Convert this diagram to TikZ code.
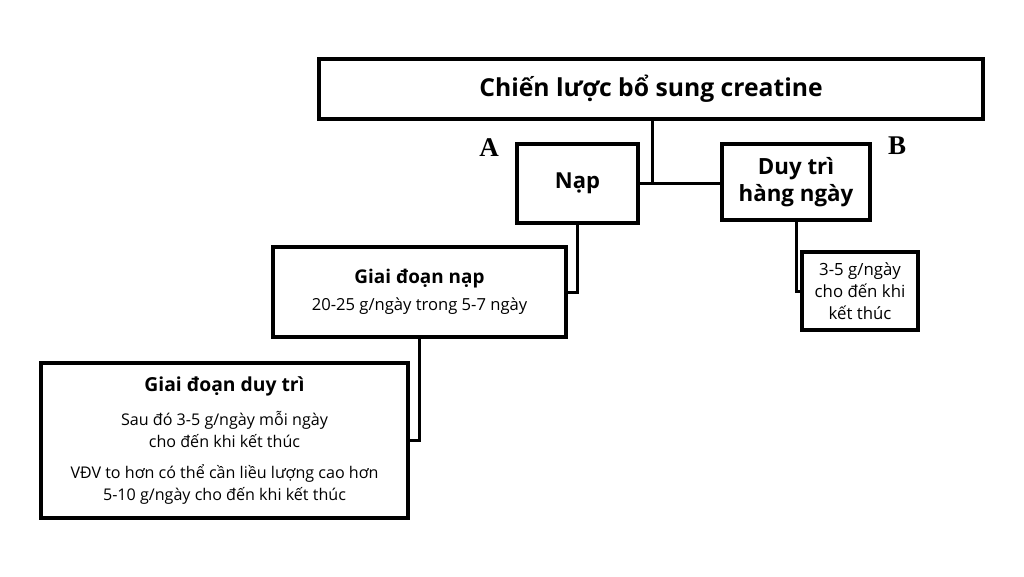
\documentclass[tikz,border=0pt]{standalone}
\usepackage{fontspec}
\setmainfont{Open Sans}
\newfontfamily\lblfont{Liberation Serif}
\begin{document}
\begin{tikzpicture}[x=1pt,y=-1pt,
  box/.style={draw=black,line width=3.5pt,fill=white,rectangle,inner sep=0pt,align=center,text=black},
  conn/.style={draw=black,line width=3pt},
  lbl/.style={font=\lblfont\bfseries\fontsize{27}{30}\selectfont,inner sep=0pt}]
\fill[white] (0,0) rectangle (1024,576);
\useasboundingbox (0,0) rectangle (1024,576);
\node[box,minimum width=664pt,minimum height=60pt,font=\bfseries\fontsize{24.7}{28}\selectfont] (top) at (651,89) {Chiến lược bổ sung creatine};
\node[box,minimum width=121pt,minimum height=79pt,font=\bfseries\fontsize{22}{27}\selectfont] (nap) at (577.5,183.5) {Nạp};
\node[box,minimum width=148pt,minimum height=76pt,font=\bfseries\fontsize{22.3}{27}\selectfont] (dt) at (796,182) {Duy trì\\hàng ngày};
\node[box,minimum width=293pt,minimum height=90pt,font=\fontsize{16.6}{27}\selectfont] (gdn) at (419.5,292) {{\bfseries\fontsize{18.9}{27}\selectfont Giai đoạn nạp}\\20-25 g/ngày trong 5-7 ngày};
\node[box,minimum width=367pt,minimum height=155pt,font=\fontsize{16.1}{22}\selectfont] (gddt) at (224.5,440.5) {{\bfseries\fontsize{19.3}{22}\selectfont Giai đoạn duy trì}\\[12pt]Sau đó 3-5 g/ngày mỗi ngày\\cho đến khi kết thúc\\[9pt]VĐV to hơn có thể cần liều lượng cao hơn\\5-10 g/ngày cho đến khi kết thúc};
\node[box,minimum width=116pt,minimum height=78pt,font=\fontsize{16.8}{22}\selectfont] (sm) at (860,291) {3-5 g/ngày\\cho đến khi\\kết thúc};
\node[lbl] (A) at (489,148) {A};
\node[lbl] (B) at (897,146) {B};
\coordinate (j) at (652,183.5);
\draw[conn] (top.south -| j) -- (j);
\draw[conn] (nap.east) -- (nap.east -| dt.west);
\draw[conn] (nap.south) |- (gdn.east);
\draw[conn] (gdn.south) |- (gddt.east);
\draw[conn] (dt.south) |- (sm.west);
\end{tikzpicture}
\end{document}
